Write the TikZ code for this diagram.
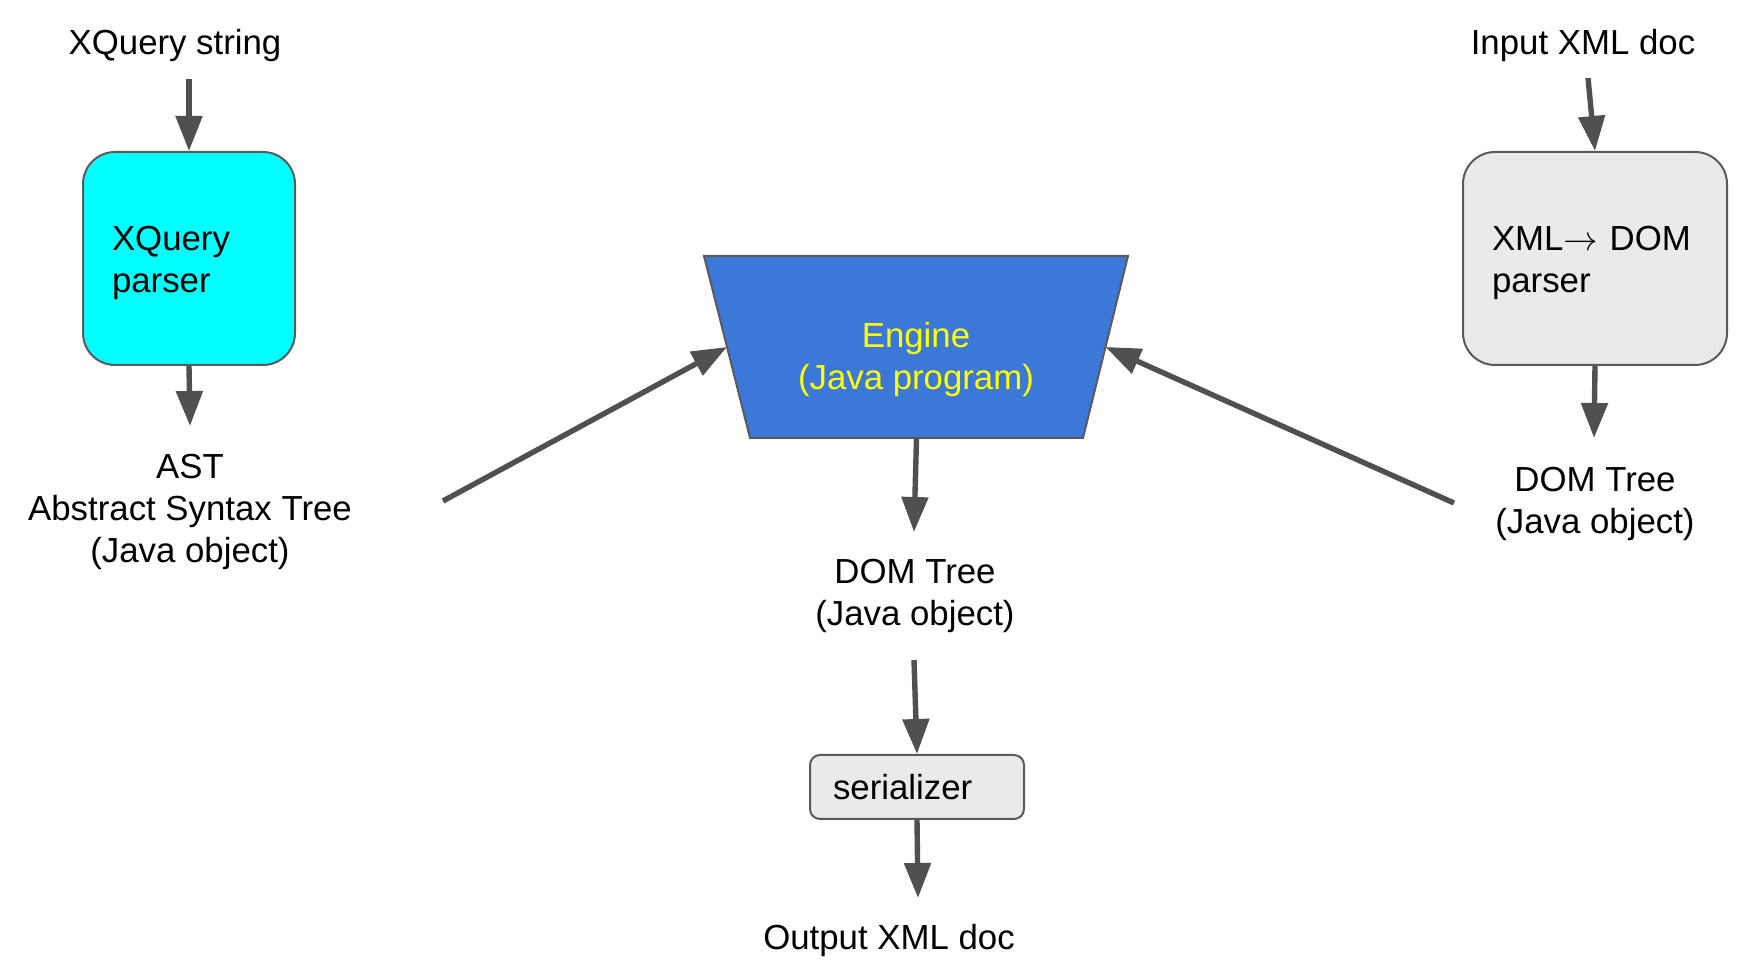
\documentclass[tikz,border=0pt]{standalone}
\usepackage{fontspec}
\setmainfont{Liberation Sans}
\usetikzlibrary{arrows.meta,calc}
\definecolor{linegray}{HTML}{505050}
\definecolor{bordergray}{HTML}{5A5A5A}
\definecolor{cyanfill}{HTML}{00FFFF}
\definecolor{enginefill}{HTML}{3C78D8}
\definecolor{boxgray}{HTML}{EAEAEA}
\definecolor{engtext}{HTML}{FFFF00}
\begin{document}
\begin{tikzpicture}[x=0.5pt,y=-0.5pt,
  lbl/.style={font=\fontsize{17.4}{21}\selectfont, inner sep=0pt, align=center},
  flow/.style={draw=linegray, line width=2.7pt, -{Triangle[length=17.5pt,width=13pt]}},
  procbox/.style={draw=bordergray, line width=1pt, font=\fontsize{17.4}{21}\selectfont, align=left, inner ysep=0pt}]
\useasboundingbox (0,0) rectangle (1746,961);

% left column
\node[lbl, anchor=base] (xqs) at (175,55) {XQuery string};
\node[procbox, fill=cyanfill, rounded corners=16pt, anchor=north west,
      minimum width=106pt, minimum height=106.5pt, text width=77pt, inner xsep=14.5pt] (xqp) at (82,151) {\rule{0pt}{16.2pt}XQuery\\parser};
\node[lbl] (ast) at (190,512) {AST\\Abstract Syntax Tree\\(Java object)};
\coordinate (xqs-out) at (189,79);
\coordinate (ast-in) at (190,426);
\coordinate (ast-out) at (443,501);

% engine
\coordinate (etl) at (704,256);
\coordinate (etr) at (1128,256);
\coordinate (ebr) at (1083,438);
\coordinate (ebl) at (750,438);
\draw[fill=enginefill, draw=bordergray, line width=1pt] (etl) -- (etr) -- (ebr) -- (ebl) -- cycle;
\node[lbl, text=engtext] (engine) at (916,359.5) {Engine\\(Java program)};
\coordinate (engW) at ($(etl)!0.5!(ebl)$);
\coordinate (engE) at ($(etr)!0.5!(ebr)$);
\coordinate (engS) at ($(ebl)!0.5!(ebr)$);

% middle column
\node[lbl] (domm) at (915,596) {DOM Tree\\(Java object)};
\coordinate (domm-in) at (914,532);
\coordinate (domm-out) at (914,660);
\node[procbox, fill=boxgray, rounded corners=5pt, anchor=north west,
      minimum width=107pt, minimum height=32pt, text width=84pt, inner xsep=11.5pt] (ser) at (809,754) {serializer};
\node[lbl, anchor=base] (out) at (889,950) {Output XML doc};
\coordinate (out-in) at (918,898);

% right column
\node[lbl, anchor=base] (ixd) at (1583,55) {Input XML doc};
\node[procbox, fill=boxgray, rounded corners=16pt, anchor=north west,
      minimum width=132pt, minimum height=106.5pt, text width=103pt, inner xsep=14.5pt] (xdp) at (1462,151) {\rule{0pt}{16.2pt}XML$\rightarrow$ DOM\\parser};
\node[lbl] (domr) at (1595,504) {DOM Tree\\(Java object)};
\coordinate (ixd-out) at (1588,78);
\coordinate (domr-in) at (1594,438);
\coordinate (domr-out) at (1454,503);

% connectors
\draw[flow] (xqs-out) -- (xqp.north);
\draw[flow] (xqp.south) -- (ast-in);
\draw[flow] (ast-out) -- (engW);
\draw[flow] (engS) -- (domm-in);
\draw[flow] (domm-out) -- (ser.north);
\draw[flow] (ser.south) -- (out-in);
\draw[flow] (ixd-out) -- (xdp.north);
\draw[flow] (xdp.south) -- (domr-in);
\draw[flow] (domr-out) -- (engE);
\end{tikzpicture}
\end{document}
